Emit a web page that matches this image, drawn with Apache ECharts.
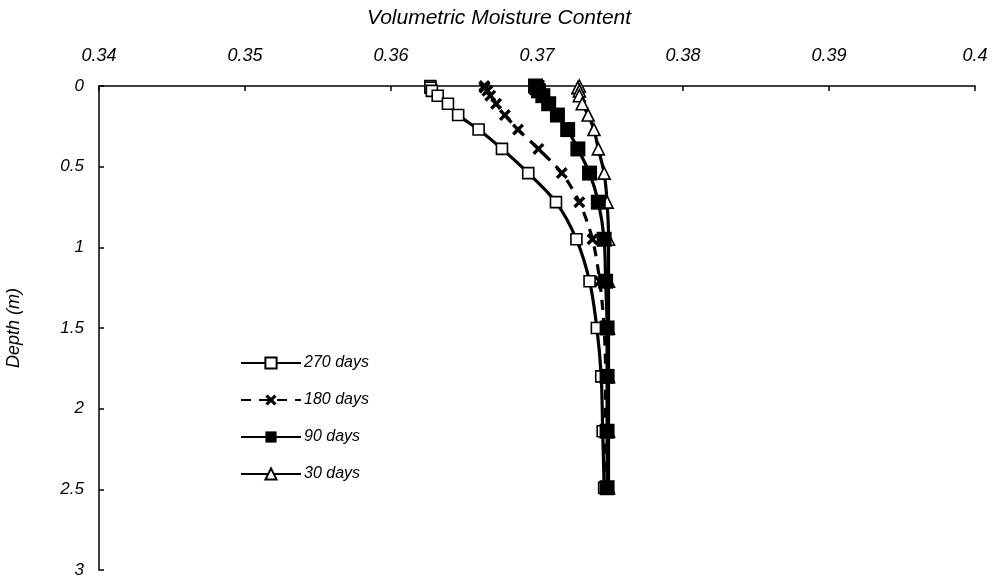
<!DOCTYPE html>
<html>
<head>
<meta charset="utf-8">
<script src="https://cdn.jsdelivr.net/npm/echarts@6/dist/echarts.min.js"></script>
<style>
html,body{margin:0;padding:0;background:#fff;}
#chart{width:993px;height:584px;}
</style>
</head>
<body>
<div id="chart"></div>
<script>
// Depth nodes (m)
const depths = [0, 0.01, 0.03, 0.06, 0.11, 0.18, 0.27, 0.39, 0.54, 0.72, 0.95, 1.21, 1.50, 1.80, 2.14, 2.49];
// Volumetric moisture content per series
const days270 = [0.3627, 0.3627, 0.3628, 0.3632, 0.3639, 0.3646, 0.3660, 0.3676, 0.3694, 0.3713, 0.3727, 0.3736, 0.3741, 0.3744, 0.3745, 0.3746];
const days180 = [0.3664, 0.3664, 0.3666, 0.3668, 0.3672, 0.3678, 0.3687, 0.3701, 0.3717, 0.3729, 0.3738, 0.3743, 0.3746, 0.3747, 0.3747, 0.3747];
const days90  = [0.3699, 0.3700, 0.3701, 0.3704, 0.3708, 0.3714, 0.3721, 0.3728, 0.3736, 0.3742, 0.3746, 0.3747, 0.3748, 0.3748, 0.3748, 0.3748];
const days30  = [0.3729, 0.3728, 0.3729, 0.3729, 0.3731, 0.3735, 0.3739, 0.3742, 0.3746, 0.3748, 0.3749, 0.3749, 0.3749, 0.3749, 0.3749, 0.3749];
const seriesNames = ['270 days', '180 days', '90 days', '30 days'];
const xTicks = ['0.34', '0.35', '0.36', '0.37', '0.38', '0.39', '0.4'];
const yTicks = ['0', '0.5', '1', '1.5', '2', '2.5', '3'];

const pairs = arr => arr.map((v, i) => [v, depths[i]]);
const FONT = 'Liberation Sans, Arial, sans-serif';
const crossPath = 'path://M0,2 L2,0 L5,3 L8,0 L10,2 L7,5 L10,8 L8,10 L5,7 L2,10 L0,8 L3,5 Z';

const chart = echarts.init(document.getElementById('chart'), null, {renderer: 'canvas'});
chart.setOption({
  animation: false,
  backgroundColor: '#fff',
  grid: {left: 99, right: 18, top: 86, bottom: 14, containLabel: false, outerBoundsMode: 'none'},
  legend: {
    orient: 'vertical',
    left: 240,
    top: 355,
    padding: 0,
    itemWidth: 60,
    itemHeight: 14,
    itemGap: 21,
    data: seriesNames,
    textStyle: {fontFamily: FONT, fontSize: 16, fontStyle: 'italic', color: '#000', padding: [0, 0, 0, -2]}
  },
  xAxis: {
    type: 'value',
    position: 'top',
    min: 0.34, max: 0.4, interval: 0.01,
    name: 'Volumetric Moisture Content',
    nameLocation: 'middle',
    nameGap: 57,
    nameTextStyle: {fontFamily: FONT, fontSize: 21, fontStyle: 'italic', color: '#000', padding: [0, 76, 0, 0]},
    axisLine: {show: true, lineStyle: {color: '#000', width: 1.5}},
    axisTick: {show: true, inside: true, length: 5, lineStyle: {color: '#000', width: 1.5}},
    splitLine: {show: false},
    axisLabel: {
      margin: 21,
      fontFamily: FONT, fontSize: 18, fontStyle: 'italic', color: '#000',
      formatter: v => xTicks[Math.round((v - 0.34) / 0.01)]
    }
  },
  yAxis: {
    type: 'value',
    inverse: true,
    min: 0, max: 3, interval: 0.5,
    name: 'Depth (m)',
    nameLocation: 'middle',
    nameGap: 76,
    nameRotate: 90,
    nameTextStyle: {fontFamily: FONT, fontSize: 18, fontStyle: 'italic', color: '#000'},
    axisLine: {show: true, lineStyle: {color: '#000', width: 1.5}},
    axisTick: {show: true, inside: true, length: 5, lineStyle: {color: '#000', width: 1.5}},
    splitLine: {show: false},
    axisLabel: {
      margin: 15,
      fontFamily: FONT, fontSize: 17, fontStyle: 'italic', color: '#000',
      formatter: v => yTicks[Math.round(v / 0.5)]
    }
  },
  series: [
    {
      name: '30 days', type: 'line', data: pairs(days30), smooth: 0.3, z: 2,
      symbol: 'triangle', symbolSize: 12,
      lineStyle: {color: '#000', width: 3.2},
      itemStyle: {color: '#fff', borderColor: '#000', borderWidth: 1.6}
    },
    {
      name: '180 days', type: 'line', data: pairs(days180), smooth: 0.3, z: 3,
      symbol: crossPath, symbolSize: 12,
      lineStyle: {color: '#000', width: 3.2, type: [10, 8]},
      itemStyle: {color: '#000', borderColor: '#000', borderWidth: 0}
    },
    {
      name: '270 days', type: 'line', data: pairs(days270), smooth: 0.3, z: 4,
      symbol: 'rect', symbolSize: 11,
      lineStyle: {color: '#000', width: 3.2},
      itemStyle: {color: '#fff', borderColor: '#000', borderWidth: 1.6}
    },
    {
      name: '90 days', type: 'line', data: pairs(days90), smooth: 0.3, z: 5,
      symbol: 'rect', symbolSize: 15,
      lineStyle: {color: '#000', width: 3.2},
      itemStyle: {color: '#000', borderColor: '#000', borderWidth: 0}
    }
  ]
});
</script>
</body>
</html>
